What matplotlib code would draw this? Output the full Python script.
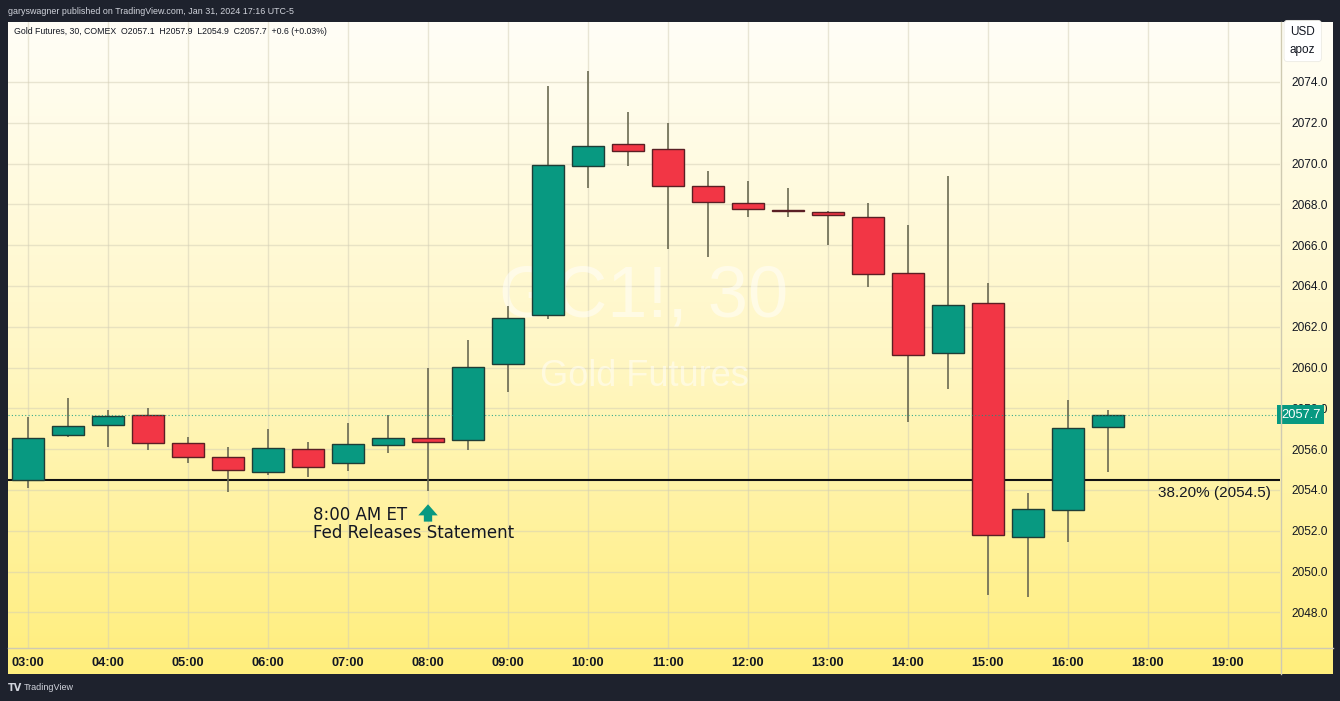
import numpy as np
import matplotlib
matplotlib.use("Agg")
import matplotlib.pyplot as plt
import matplotlib.transforms as mtransforms
from matplotlib.colors import LinearSegmentedColormap

# 30 minute candles, Gold Futures (GC1!), Jan 31 2024
times = ["03:00", "03:30", "04:00", "04:30", "05:00", "05:30", "06:00", "06:30",
         "07:00", "07:30", "08:00", "08:30", "09:00", "09:30", "10:00", "10:30",
         "11:00", "11:30", "12:00", "12:30", "13:00", "13:30", "14:00", "14:30",
         "15:00", "15:30", "16:00", "16:30"]
opens = [2054.5, 2056.7, 2057.2, 2057.7, 2056.3, 2055.6, 2054.9, 2056.0,
         2055.3, 2056.2, 2056.55, 2056.45, 2060.2, 2062.6, 2069.9, 2070.95,
         2070.7, 2068.9, 2068.05, 2067.74, 2067.64, 2067.4, 2064.65, 2060.7,
         2063.15, 2051.7, 2053.0, 2057.1]
highs = [2057.6, 2058.5, 2057.9, 2058.0, 2056.6, 2056.1, 2057.0, 2056.35,
         2057.3, 2057.7, 2060.0, 2061.35, 2063.0, 2073.8, 2074.55, 2072.55,
         2072.0, 2069.65, 2069.15, 2068.8, 2067.7, 2068.05, 2067.0, 2069.4,
         2064.15, 2053.85, 2058.4, 2057.9]
lows = [2054.1, 2056.6, 2056.1, 2055.95, 2055.3, 2053.9, 2054.75, 2054.65,
        2054.95, 2055.8, 2053.95, 2055.95, 2058.8, 2062.4, 2068.8, 2069.9,
        2065.8, 2065.4, 2067.4, 2067.4, 2066.0, 2063.95, 2057.35, 2058.95,
        2048.85, 2048.75, 2051.45, 2054.9]
closes = [2056.55, 2057.15, 2057.65, 2056.3, 2055.6, 2055.0, 2056.05, 2055.15,
          2056.25, 2056.55, 2056.35, 2060.05, 2062.45, 2069.95, 2070.85, 2070.6,
          2068.9, 2068.1, 2067.76, 2067.68, 2067.48, 2064.6, 2060.6, 2063.05,
          2051.8, 2053.05, 2057.05, 2057.7]

# time axis (17:00 session break is skipped, so 18:00 follows 16:30)
tick_pos = [0, 2, 4, 6, 8, 10, 12, 14, 16, 18, 20, 22, 24, 26, 28, 30]
tick_labels = ["03:00", "04:00", "05:00", "06:00", "07:00", "08:00", "09:00", "10:00",
               "11:00", "12:00", "13:00", "14:00", "15:00", "16:00", "18:00", "19:00"]
price_ticks = np.arange(2048, 2076, 2)

fib_level = 2054.5
last_price = 2057.7

UP = "#089981"
DOWN = "#F23645"
W, H = 1340, 701

fig = plt.figure(figsize=(W / 100, H / 100), dpi=100, facecolor="#1E222D")

# gradient background for the whole chart pane
bg = fig.add_axes([8 / W, (H - 674) / H, (1333 - 8) / W, (674 - 22) / H])
cmap = LinearSegmentedColormap.from_list("tvbg", ["#FFFEF7", "#FFF7C6", "#FFEE7C"])
grad = np.linspace(0, 1, 256).reshape(-1, 1)
bg.imshow(grad, aspect="auto", cmap=cmap, extent=[0, 1, 0, 1], origin="upper")
bg.set_xlim(0, 1)
bg.set_ylim(0, 1)
bg.axis("off")

ax = fig.add_axes([8 / W, (H - 648) / H, (1280 - 8) / W, (648 - 22) / H])
ax.set_facecolor("none")
ax.set_xlim(-0.5, 31.3)
ax.set_ylim(2046.255, 2076.94)

x = np.arange(len(times))
o = np.array(opens)
c = np.array(closes)
colors = [UP if cc >= oo else DOWN for oo, cc in zip(o, c)]
edges = ["#1f3d36" if cc >= oo else "#5a1f24" for oo, cc in zip(o, c)]

ax.vlines(x, lows, highs, color="#6b6a52", lw=1.2, zorder=3)
ax.bar(x, np.abs(c - o), bottom=np.minimum(o, c), width=0.78, color=colors,
       edgecolor=edges, linewidth=1.0, zorder=4)

# fib line + last price line
ax.axhline(fib_level, color="#111111", lw=1.5, zorder=2)
ax.axhline(last_price, color=UP, lw=0.8, ls=(0, (1, 2)), alpha=0.8, zorder=5)

# grid
ax.set_xticks(tick_pos)
ax.set_xticklabels(tick_labels)
ax.set_yticks(price_ticks)
ax.set_yticklabels(["%.1f" % p for p in price_ticks])
ax.grid(True, color="#d3ceb6", lw=1, alpha=0.5, zorder=0)
ax.set_axisbelow(True)
ax.yaxis.tick_right()
ax.tick_params(axis="y", length=0, pad=8, labelsize=8.6, labelcolor="#131722")
ax.tick_params(axis="x", length=0, pad=6.5, labelsize=9.2, labelcolor="#131722")
for lab in ax.get_xticklabels():
    lab.set_fontweight("bold")
    lab.set_fontfamily("Liberation Sans")
for lab in ax.get_yticklabels():
    lab.set_fontfamily("Liberation Sans")
for s in ax.spines.values():
    s.set_visible(False)

# pane separators
fig.add_artist(plt.Line2D([1281 / W, 1281 / W], [(H - 674) / H, (H - 22) / H],
                          color="#cfcab2", lw=1))
fig.add_artist(plt.Line2D([8 / W, 1333 / W], [(H - 648) / H, (H - 648) / H],
                          color="#cfcab2", lw=1))

# watermark
ax.text(0.5, 0.559, "GC1!, 30", transform=ax.transAxes, ha="center", va="center",
        fontsize=52, color="white", alpha=0.5, family="Liberation Sans", zorder=1)
ax.text(0.5, 0.4345, "Gold Futures", transform=ax.transAxes, ha="center", va="center",
        fontsize=26, color="white", alpha=0.5, family="Liberation Sans", zorder=1)

# legend line
ax.text(6 / 1272, 1 - 9 / 626, "Gold Futures, 30, COMEX  O2057.1  H2057.9  L2054.9  C2057.7  +0.6 (+0.03%)",
        transform=ax.transAxes, ha="left", va="center", fontsize=6.3, color="#131722",
        family="Liberation Sans")

# annotations
trans = mtransforms.blended_transform_factory(ax.transAxes, ax.transData)
ax.text(0.993, 2053.85, "38.20% (2054.5)", transform=trans, ha="right", va="center",
        fontsize=11, color="#131722", family="Liberation Sans")
ax.text(7.125, 2052.77, "8:00 AM ET", ha="left", va="center", fontsize=12,
        color="#131722", family="DejaVu Sans", fontweight="medium")
ax.text(7.125, 2051.89, "Fed Releases Statement", ha="left", va="center", fontsize=12,
        color="#131722", family="DejaVu Sans", fontweight="medium")
ax.annotate("", xy=(10, 2053.3), xytext=(10, 2052.45),
            arrowprops=dict(arrowstyle="simple,head_width=1.4,head_length=0.8,tail_width=0.6",
                            color=UP, lw=0, shrinkA=0, shrinkB=0, mutation_scale=10))

# last price tag
ax.text(1.0008, last_price, "%.1f" % last_price, transform=trans, ha="left", va="center",
        fontsize=9.3, color="white", family="Liberation Sans", clip_on=False,
        bbox=dict(boxstyle="square,pad=0.28", fc=UP, ec="none"), zorder=6)

# currency box
fig.text(1290 / W, 1 - 41 / H, "USD\napoz", ha="left", va="center", fontsize=8.5,
         color="#131722", family="Liberation Sans", linespacing=1.6,
         bbox=dict(boxstyle="round,pad=0.5,rounding_size=0.3", fc="white", ec="#ecebe4", lw=0.6))

# header / footer
fig.text(8 / W, 1 - 11 / H, "garyswagner published on TradingView.com, Jan 31, 2024 17:16 UTC-5",
         ha="left", va="center", fontsize=6.4, color="#D1D4DC", family="Liberation Sans")
fig.text(8 / W, 1 - 688 / H, "TV", ha="left", va="center", fontsize=7, fontweight="bold",
         color="#D1D4DC", family="DejaVu Sans")
fig.text(24 / W, 1 - 688 / H, "TradingView", ha="left", va="center", fontsize=6.5,
         color="#D1D4DC", family="Liberation Sans")

fig.savefig("out.png", dpi=100, facecolor=fig.get_facecolor())
